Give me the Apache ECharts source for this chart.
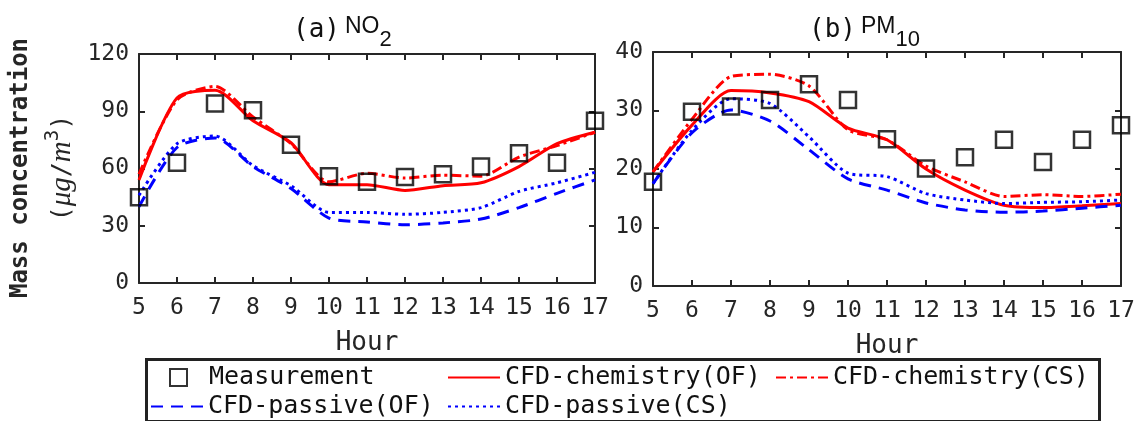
<!DOCTYPE html>
<html lang="en">
<head>
    <meta charset="UTF-8">
    <title>NO2 / PM10 mass concentration</title>
    <script src="https://cdn.jsdelivr.net/npm/echarts/dist/echarts.min.js"></script>
    <style>
        html, body { margin: 0; padding: 0; background: #fff; }
        #chart { width: 1141px; height: 421px; }
    </style>
</head>
<body>
<div id="chart"></div>

<script>
    // hours on the x axis
    var hours = [5, 6, 7, 8, 9, 10, 11, 12, 13, 14, 15, 16, 17];

    // (a) NO2
    var no2Meas    = [45, 63, 94, 90.5, 72.5, 56, 53, 55.5, 57, 61, 68, 63, 85];
    var no2ChemOF  = [54, 97, 101, 85, 73.5, 51.5, 51.5, 48.5, 51, 52.5, 61, 73, 79];
    var no2ChemCS  = [57, 96, 103, 87, 73, 53, 57.5, 55, 56.5, 56, 66, 72, 79];
    var no2PassOF  = [40, 71, 76, 61, 49.5, 34, 32, 30.5, 31.5, 33.5, 39.5, 47, 54];
    var no2PassCS  = [46, 73, 77, 61.5, 51, 37, 37, 36, 37, 39.5, 48, 52.5, 58];

    // (b) PM10
    var pmMeas     = [17.8, 29.8, 30.7, 31.8, 34.5, 31.8, 25.1, 20.1, 22, 25, 21.2, 25, 27.5];
    var pmChemOF   = [19.5, 27.5, 33.4, 33, 31.5, 27, 25, 20, 16.4, 13.8, 13.4, 13.7, 14.1];
    var pmChemCS   = [19.5, 28.5, 35.8, 36.2, 34.2, 26.7, 25, 20.5, 17.8, 15.3, 15.6, 15.3, 15.7];
    var pmPassOF   = [17.5, 26.2, 30.1, 28.2, 23.3, 18.3, 16.4, 14.2, 13, 12.6, 12.8, 13.3, 13.8];
    var pmPassCS   = [17.5, 26.6, 32, 31.2, 25.5, 19.3, 18.7, 15.8, 14.7, 14.1, 14.3, 14.4, 14.7];

    var no2Ticks = { min: 0, max: 120, interval: 30 };
    var pmTicks  = { min: 0, max: 40, interval: 10 };

    var FONT = '"DejaVu Sans Mono", "Liberation Mono", monospace';
    var INK = '#262626';

    var chart = echarts.init(document.getElementById('chart'));

    function pairs(ys) {
        return hours.map(function (h, i) { return [h, ys[i]]; });
    }

    function xAxes(gi) {
        var base = {
            type: 'value', gridIndex: gi, min: 5, max: 17, interval: 1,
            axisLine: { show: true, onZero: false, lineStyle: { color: INK, width: 2 } },
            axisTick: { show: true, inside: true, length: 6, lineStyle: { color: INK, width: 2 } },
            splitLine: { show: false }
        };
        var bottom = Object.assign({}, base, {
            position: 'bottom',
            name: 'Hour', nameLocation: 'middle', nameGap: 47,
            nameTextStyle: { fontSize: 26, color: INK, fontFamily: FONT },
            axisLabel: { fontSize: 23, color: INK, fontFamily: FONT, margin: 14 }
        });
        var top = Object.assign({}, base, { position: 'top', axisLabel: { show: false } });
        return [bottom, top];
    }

    function yAxes(gi, t) {
        var base = {
            type: 'value', gridIndex: gi, min: t.min, max: t.max, interval: t.interval,
            axisLine: { show: true, onZero: false, lineStyle: { color: INK, width: 2 } },
            axisTick: { show: true, inside: true, length: 6, lineStyle: { color: INK, width: 2 } },
            splitLine: { show: false }
        };
        var left = Object.assign({}, base, {
            position: 'left',
            axisLabel: { fontSize: 23, color: INK, fontFamily: FONT, margin: 10 }
        });
        var right = Object.assign({}, base, { position: 'right', axisLabel: { show: false } });
        return [left, right];
    }

    function lineSeries(name, gi, ys, color, dash) {
        return {
            name: name, type: 'line', xAxisIndex: gi * 2, yAxisIndex: gi * 2,
            data: pairs(ys), symbol: 'none', smooth: 0.25,
            lineStyle: { color: color, width: 3, type: dash, cap: 'butt' },
            itemStyle: { color: color },
            z: 3
        };
    }

    function measSeries(gi, ys) {
        return {
            name: 'Measurement', type: 'scatter', xAxisIndex: gi * 2, yAxisIndex: gi * 2,
            data: pairs(ys), symbol: 'rect', symbolSize: 16,
            itemStyle: { color: 'rgba(0,0,0,0)', borderColor: '#000', borderWidth: 2.5 },
            z: 4
        };
    }

    var RED = '#ff0000', BLUE = '#0000ff';
    var DASHDOT = [10, 4, 3, 4], DASH = [12, 8], DOT = [3, 4];

    function legendItem(name, left, top, opts) {
        return Object.assign({
            data: [name], left: left, top: top, padding: 0,
            selectedMode: false, itemWidth: 52, itemHeight: 14,
            itemStyle: { opacity: 0 },
            textStyle: { fontSize: 25, color: '#111', fontFamily: FONT }
        }, opts || {});
    }

    var titleRich = {
        a: { fontSize: 26, color: '#111', fontFamily: FONT, fontWeight: 'normal', lineHeight: 42, verticalAlign: 'middle' },
        b: { fontSize: 23, color: '#111', fontFamily: 'Liberation Sans', fontWeight: 'normal', lineHeight: 42, verticalAlign: 'middle', padding: [0, 0, 6, 0] },
        s: { fontSize: 22, color: '#111', fontFamily: 'Liberation Sans', fontWeight: 'normal', lineHeight: 42, verticalAlign: 'bottom' }
    };

    var option = {
        animation: false,
        title: [
            { text: '{a|(a)} {b|NO}{s|2}', left: 288, top: 4, textStyle: { rich: titleRich } },
            { text: '{a|(b)} {b|PM}{s|10}', left: 804, top: 4, textStyle: { rich: titleRich } }
        ],
        grid: [
            { left: 139, top: 54, width: 456, height: 229 },
            { left: 653, top: 52, width: 468, height: 234 }
        ],
        xAxis: xAxes(0).concat(xAxes(1)),
        yAxis: yAxes(0, no2Ticks).concat(yAxes(1, pmTicks)),
        legend: [
            legendItem('Measurement', 169, 365, {
                itemWidth: 17, itemHeight: 17, itemStyle: {},
                textStyle: { fontSize: 25, color: '#111', fontFamily: FONT, padding: [0, 0, 0, 17] }
            }),
            legendItem('CFD-chemistry(OF)', 447, 365),
            legendItem('CFD-chemistry(CS)', 775, 365),
            legendItem('CFD-passive(OF)', 150, 394),
            legendItem('CFD-passive(CS)', 447, 394)
        ],
        graphic: [
            {
                type: 'rect', left: 144, top: 357, silent: true,
                shape: { width: 953, height: 62 },
                style: { fill: 'none', stroke: '#222', lineWidth: 3 }
            },
            {
                type: 'text', x: 21, y: 168, rotation: Math.PI / 2, silent: true,
                style: {
                    text: 'Mass concentration', fontSize: 24, fontWeight: 'bold',
                    fontFamily: FONT, fill: INK, align: 'center', verticalAlign: 'middle'
                }
            },
            {
                type: 'text', x: 62, y: 168, rotation: Math.PI / 2, silent: true,
                style: {
                    text: '({i|μg}/{i|m}{p|3})', fontSize: 25,
                    fontFamily: FONT, fill: INK, align: 'center', verticalAlign: 'middle',
                    rich: {
                        i: { fontSize: 29, fontStyle: 'italic', fontFamily: 'Liberation Serif', fill: INK },
                        p: { fontSize: 19, fontFamily: FONT, fill: INK, verticalAlign: 'top', lineHeight: 36 }
                    }
                }
            }
        ],
        series: [
            lineSeries('CFD-chemistry(OF)', 0, no2ChemOF, RED, 'solid'),
            lineSeries('CFD-chemistry(CS)', 0, no2ChemCS, RED, DASHDOT),
            lineSeries('CFD-passive(OF)', 0, no2PassOF, BLUE, DASH),
            lineSeries('CFD-passive(CS)', 0, no2PassCS, BLUE, DOT),
            measSeries(0, no2Meas),
            lineSeries('CFD-chemistry(OF)', 1, pmChemOF, RED, 'solid'),
            lineSeries('CFD-chemistry(CS)', 1, pmChemCS, RED, DASHDOT),
            lineSeries('CFD-passive(OF)', 1, pmPassOF, BLUE, DASH),
            lineSeries('CFD-passive(CS)', 1, pmPassCS, BLUE, DOT),
            measSeries(1, pmMeas)
        ]
    };

    chart.setOption(option);
</script>
</body>
</html>
